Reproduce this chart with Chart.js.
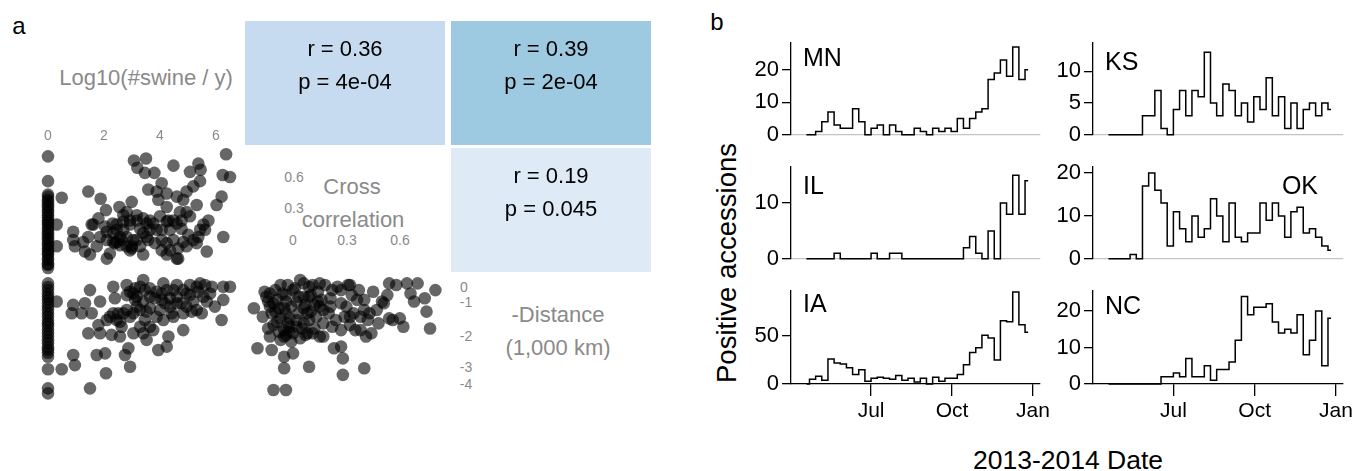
<!DOCTYPE html>
<html>
<head>
<meta charset="utf-8">
<script src="https://cdn.jsdelivr.net/npm/chart.js@4.4.0/dist/chart.umd.min.js"></script>
<style>
  body { margin:0; width:1353px; height:471px; background:#fff; position:relative; overflow:hidden;
         font-family:"Liberation Sans", Arial, sans-serif; }
  canvas { position:absolute; }
  .t { position:absolute; white-space:nowrap; transform:translate(-50%,-50%); line-height:1; }
  .g { color:#8a8a8a; font-size:22px; }
  .s { color:#8a8a8a; font-size:14px; }
</style>
</head>
<body>
<div class="t" style="left:19px;top:26px;font-size:24px">a</div>
<div class="t" style="left:717px;top:22px;font-size:24px">b</div>

<!-- diagonal labels of the pairs plot -->
<div class="t g" style="left:146px;top:78px">Log10(#swine / y)</div>
<div class="t g" style="left:352px;top:187px">Cross</div>
<div class="t g" style="left:353px;top:220px">correlation</div>
<div class="t g" style="left:558px;top:315px">-Distance</div>
<div class="t g" style="left:558px;top:348px">(1,000 km)</div>
<div class="t s" style="left:294px;top:177px">0.6</div>
<div class="t s" style="left:294px;top:208px">0.3</div>
<div class="t s" style="left:293px;top:240px">0</div>
<div class="t s" style="left:347px;top:240px">0.3</div>
<div class="t s" style="left:400px;top:240px">0.6</div>
<div class="t s" style="left:464px;top:287px">0</div>
<div class="t s" style="left:466px;top:302px">-1</div>
<div class="t s" style="left:466px;top:336px">-2</div>
<div class="t s" style="left:466px;top:367px">-3</div>
<div class="t s" style="left:466px;top:384px">-4</div>

<!-- panel b titles -->
<div class="t" style="left:727px;top:263px;font-size:27.5px;transform:translate(-50%,-50%) rotate(-90deg)">Positive accessions</div>
<div class="t" style="left:1068px;top:460px;font-size:26.5px">2013-2014 Date</div>

<script>
// ---- panel a : correlation cells ----
const cellCols = [1, 2, 2];
const cellRows = [0, 0, 1];
const cellR = [0.36, 0.39, 0.19];
const cellP = ['4e-04', '2e-04', '0.045'];
const cellColors = ['#c6dbef', '#9ecae1', '#deebf7'];

// ---- panel a : scatter points ----
// log10(#swine / y) vs cross correlation
const swineCorr = [
  [0,0.79],[0,0.55],[0,0.42],[0,0.40],[0,0.37],[0,0.35],[0,0.32],[0,0.30],[0,0.27],[0,0.25],
  [0,0.22],[0,0.20],[0,0.17],[0,0.15],[0,0.13],[0,0.10],[0,0.08],[0,0.05],[0,0.03],[0,0.0],
  [0,-0.02],[0,-0.05],[0,-0.07],[0,-0.10],[0,-0.12],[0,-0.15],[0,-0.16],[0,-0.20],[0,-0.21],
  [0,-0.25],[0,-0.26],[0,-0.29],
  [0.49,0.39],[1.44,0.45],[1.88,0.38],[2.07,0.27],[1.80,0.19],[1.56,0.13],[2.31,0.14],[2.55,0.30],
  [2.81,0.25],[2.99,0.35],[3.07,0.75],[3.50,0.77],[3.19,0.68],[3.46,0.63],[3.80,0.63],[4.48,0.70],
  [4.06,0.53],[3.58,0.47],[3.88,0.45],[4.24,0.43],[3.94,0.37],[4.24,0.30],[4.60,0.40],[4.83,0.37],
  [4.95,0.45],[5.19,0.50],[5.43,0.55],[5.07,0.64],[5.37,0.72],[5.45,0.66],[6.24,0.61],[6.50,0.59],
  [6.36,0.81],[6.20,0.40],[6.02,0.32],[5.31,0.32],[4.95,0.25],[4.71,0.25],[4.48,0.17],[4.24,0.16],
  [4.00,0.21],[3.64,0.17],[3.40,0.19],[3.17,0.22],[2.93,0.17],[2.69,0.16],[2.45,0.08],[2.10,0.06],
  [1.86,0.01],[1.44,0.01],[0.90,0.06],[0.90,-0.02],[0.96,-0.08],[1.26,-0.04],[1.32,-0.13],[1.50,-0.16],
  [1.74,-0.08],[2.10,-0.02],[2.21,-0.15],[2.39,-0.05],[2.63,-0.02],[2.81,0.01],[2.99,-0.08],[3.17,-0.02],
  [3.40,0.05],[3.58,-0.02],[3.64,0.08],[3.88,0.08],[4.06,-0.02],[4.24,-0.05],[4.36,-0.12],[4.24,-0.16],
  [4.60,-0.20],[4.65,-0.10],[4.83,-0.04],[5.01,0.03],[5.19,-0.02],[5.31,-0.05],[5.43,0.08],[5.55,0.13],
  [5.73,0.17],[5.61,0.08],[5.67,-0.13],[6.26,0.01],[3.40,-0.16],[2.93,-0.12],[2.57,-0.07],[2.33,-0.04],
  [2.10,-0.20],[0.31,0.13],[0.31,-0.08],[4.60,0.14],[4.77,0.09],[4.06,0.08],[5.07,0.21],[4.30,0.17],
  [4.77,0.17],[3.29,0.09],[2.93,0.13],[2.45,0.13],[2.04,0.11],[1.62,0.13],[2.69,0.22],[3.17,0.17],
  [2.45,-0.04],[2.99,-0.10],[4.65,-0.20],
  [2.57,0.01],[2.81,-0.08],[3.05,-0.02],[3.29,-0.08],[3.52,0.01],[3.82,-0.05],[4.06,-0.12],[4.48,-0.02],
  [4.95,-0.08],[2.33,0.05],[3.76,0.14],[4.36,0.08],[2.69,0.08],[5.37,0.01],[3.52,0.14]
];
// log10(#swine / y) vs -distance (1,000 km)
const swineDist = [
  [0,-0.12],[0,-0.25],[0,-0.36],[0,-0.50],[0,-0.60],[0,-0.70],[0,-0.83],[0,-0.95],[0,-1.07],[0,-1.20],
  [0,-1.31],[0,-1.45],[0,-1.55],[0,-1.65],[0,-1.79],[0,-1.90],[0,-2.02],[0,-2.15],[0,-2.26],[0,-2.40],
  [0,-2.50],[0,-2.60],[0,-2.74],[0,-3.19],[0,-3.87],[0,-4.05],
  [0.31,-0.77],[0.49,-3.19],[0.90,-2.68],[0.96,-3.04],[0.90,-0.89],[0.85,-1.19],[1.20,-1.19],[1.32,-0.83],
  [1.50,-0.36],[1.56,-1.19],[1.44,-1.90],[1.50,-3.87],[1.86,-0.77],[1.80,-1.61],[1.86,-1.90],[1.74,-2.68],
  [2.04,-2.62],[2.07,-3.33],[2.21,-1.31],[2.33,-0.24],[2.39,-0.65],[2.27,-1.96],[2.51,-1.19],[2.57,-2.02],
  [2.63,-1.67],[2.75,-2.68],[2.87,-2.44],[2.93,-3.10],[2.81,-0.18],[2.93,-0.42],[3.11,-0.71],[3.17,-0.95],
  [3.05,-1.90],[2.93,-1.31],[3.40,0.0],[3.46,-0.36],[3.46,-1.43],[3.40,-1.90],[3.64,-1.01],[3.76,-1.79],
  [3.94,-2.50],[3.88,-0.42],[4.06,-0.71],[4.24,-2.38],[4.30,-2.02],[4.24,-0.36],[4.36,-0.95],[4.60,-0.60],
  [4.60,-0.18],[4.83,-1.79],[4.83,-1.19],[5.07,-0.18],[5.19,-0.77],[5.31,-1.07],[5.49,-1.19],[5.43,-0.12],
  [5.67,-0.77],[5.85,-0.24],[5.96,-0.95],[6.20,-1.43],[6.26,-0.71],[6.26,-0.24],[6.50,-0.24],[4.95,-0.48],
  [3.88,-1.31],[3.64,-1.67],[3.29,-1.67],[2.69,-1.19],[2.10,-1.43],[2.45,-1.43],[4.12,-1.43],[4.48,-1.31],
  [4.77,-0.83],[4.48,-0.36],[3.64,-0.60],[3.17,-0.60],[5.37,-0.42],[4.95,-0.95],[3.52,-2.14],[3.29,-1.07],
  [2.81,-1.07],[3.11,-0.30],[5.61,-0.18],[4.12,-0.12],
  [2.81,-0.54],[3.05,-0.48],[3.29,-0.24],[3.64,-0.30],[3.82,-0.65],[4.06,-0.48],[4.36,-0.65],[4.60,-0.83],
  [4.83,-0.36],[5.07,-0.54],[5.31,-0.24],[5.55,-0.60],[5.79,-0.48],[3.52,-1.13],[4.00,-1.07],[4.42,-1.19],
  [3.05,-1.19],[2.33,-1.19],[2.57,-1.49],[3.40,-0.77],[5.13,-1.13],[4.18,-0.83]
];
// cross correlation vs -distance (1,000 km)
const corrDist = [
  [-0.22,-1.01],[-0.20,-2.44],[-0.17,-1.31],[-0.16,-0.42],[-0.13,-0.48],[-0.12,-2.50],[-0.11,-3.93],
  [-0.14,-1.73],[-0.13,-2.02],[-0.11,-0.83],[-0.10,-1.13],[-0.09,-1.49],[-0.08,-1.85],[-0.07,-0.18],
  [-0.06,-0.48],[-0.05,-2.74],[-0.05,-3.15],[-0.04,-3.93],[-0.04,-0.77],[-0.04,-1.19],[-0.03,-1.55],
  [-0.02,-1.85],[-0.01,-2.20],[0.0,-2.62],[0.0,-0.36],[0.02,-0.77],[0.03,-1.19],[0.04,0.0],[0.05,-1.73],
  [0.06,-1.01],[0.07,-1.96],[0.09,-0.60],[0.09,-0.24],[0.09,-1.43],[0.09,-3.10],[0.11,-1.90],[0.12,-0.89],
  [0.13,-1.31],[0.14,-0.42],[0.16,-0.71],[0.17,-2.02],[0.18,-0.18],[0.20,-1.19],[0.22,-1.67],[0.23,-2.44],
  [0.25,-0.24],[0.27,-0.83],[0.27,-1.79],[0.27,-2.38],[0.28,-2.80],[0.28,-3.39],[0.29,-1.31],[0.31,-0.18],
  [0.33,-0.54],[0.34,-1.19],[0.35,-1.79],[0.38,-1.79],[0.40,-0.71],[0.40,-3.15],[0.41,-2.02],[0.42,-1.43],
  [0.43,-1.19],[0.44,-1.90],[0.45,-0.42],[0.50,-0.77],[0.53,-0.54],[0.54,-1.37],[0.54,-0.12],[0.58,-0.18],
  [0.62,-1.67],[0.64,-0.12],[0.66,-0.48],[0.68,-0.77],[0.70,-0.12],[0.74,-0.65],[0.75,-1.13],[0.77,-1.73],
  [0.80,-0.36],
  [-0.13,-0.95],[-0.09,-0.71],[-0.05,-1.01],[-0.02,-1.37],[0.02,-1.67],[-0.04,-1.96],[0.0,-1.90],
  [0.06,-0.60],[-0.07,-1.37],[-0.05,-1.79],[0.08,-1.19],[0.15,-0.95],[0.21,-0.65],[0.24,-1.43],
  [0.30,-0.95],[0.32,-1.61],[0.37,-0.36],[0.22,-0.36],[0.11,-0.18],[-0.10,-0.36],[0.06,-0.12],
  [0.17,-1.55],[0.47,-1.07],[0.48,-1.55],
  [-0.15,-0.60],[-0.12,-1.19],[-0.08,-1.01],[-0.04,-0.54],[-0.01,-0.95],[0.03,-0.60],[0.07,-0.89],
  [0.10,-1.13],[0.14,-0.77],[0.02,-1.43],[0.06,-1.55],[-0.02,-1.67],[-0.05,-2.02],[0.04,-2.08],
  [0.08,-1.90],[0.12,-1.73],[0.15,-2.02],[0.01,-0.30],[-0.03,-0.18],[0.10,-0.54],[-0.14,-0.77],
  [-0.11,-1.61],[-0.07,-2.14],[0.17,-1.07],[0.21,-0.95],[0.15,-0.12],[0.27,-0.36],[0.32,-0.18],
  [0.36,-0.71],[0.40,-1.07],[0.32,-1.31],[0.38,-1.31],[0.51,-0.83],[0.56,-1.43],[0.60,-1.37]
];
const swineTicks = [0, 2, 4, 6];

// ---- panel b : weekly positive accessions ----
const weekStarts = ['04-15','04-22','04-29','05-06','05-13','05-20','05-27','06-03','06-10','06-17',
  '06-24','07-01','07-08','07-15','07-22','07-29','08-05','08-12','08-19','08-26','09-02','09-09',
  '09-16','09-23','09-30','10-07','10-14','10-21','10-28','11-04','11-11','11-18','11-25','12-02',
  '12-09','12-16','12-23'];
const states = ['MN', 'KS', 'IL', 'OK', 'IA', 'NC'];
const MN = [0,0,1,4,7,3,2,2,8,4,0,2,3,0,3,1,0,0,2,1,0,2,1,2,1,5,2,5,7,8,17,19,23,18,27,17,20];
const KS = [0,0,0,0,0,0,3,3,7,1,0,4,7,3,7,6,13,5,3,8,7,3,5,2,6,4,9,3,6,1,5,1,4,5,3,5,4];
const IL = [0,0,0,0,0,1,0,0,0,0,0,1,0,0,1,1,0,0,0,0,0,0,0,0,0,0,2,4,1,0,5,0,10,8,15,8,14];
const OK = [0,0,0,0,1,0,17,20,16,13,3,11,7,4,10,5,7,14,10,4,13,5,4,6,6,13,9,13,10,5,11,12,6,7,5,3,2];
const IA = [0,5,8,4,26,22,21,17,10,15,3,6,7,6,5,9,4,6,2,6,0,7,3,6,6,10,20,33,38,51,48,25,66,65,96,62,54];
const NC = [0,0,0,0,0,0,0,0,0,2,2,3,2,7,2,2,5,1,4,4,6,12,24,19,21,21,22,17,14,15,14,19,8,12,20,5,18];
const stateValues = { MN, KS, IL, OK, IA, NC };
const yTicksByState = { MN:[0,10,20], KS:[0,5,10], IL:[0,10], OK:[0,10,20], IA:[0,50], NC:[0,10,20] };
const xTickDates = ['2013-07-01', '2013-10-01', '2014-01-01'];
const xTickLabels = ['Jul', 'Oct', 'Jan'];

Chart.defaults.font.family = '"Liberation Sans", Arial, sans-serif';
Chart.defaults.animation = false;

function dayOfYear(str) {
  const p = str.split('-').map(Number);
  const y = p.length === 3 ? p[0] : 2013;
  const m = p.length === 3 ? p[1] : p[0];
  const d = p.length === 3 ? p[2] : p[1];
  return (Date.UTC(y, m - 1, d) - Date.UTC(2013, 0, 1)) / 86400000;
}

function place(left, top, width, height) {
  const c = document.createElement('canvas');
  c.width = width; c.height = height;
  c.style.left = left + 'px'; c.style.top = top + 'px';
  c.style.width = width + 'px'; c.style.height = height + 'px';
  document.body.appendChild(c);
  return c;
}

// correlation cells (upper triangle)
(function() {
  const cv = place(39, 21, 618, 381);
  new Chart(cv, {
    type: 'scatter',
    data: { datasets: [{ data: cellCols.map((c, i) => ({ x: c + 0.5, y: cellRows[i] + 0.5 })), pointRadius: 0 }] },
    options: {
      responsive: false, events: [],
      layout: { padding: 0 },
      plugins: { legend: { display: false }, tooltip: { enabled: false } },
      scales: {
        x: { type: 'linear', min: 0, max: 3, display: false },
        y: { type: 'linear', min: 0, max: 3, reverse: true, display: false }
      }
    },
    plugins: [{
      id: 'cells',
      beforeDatasetsDraw(chart) {
        const ctx = chart.ctx, xs = chart.scales.x, ys = chart.scales.y;
        ctx.save();
        cellCols.forEach((c, i) => {
          const x0 = xs.getPixelForValue(c), x1 = xs.getPixelForValue(c + 1) - 6;
          const y0 = ys.getPixelForValue(cellRows[i]), y1 = ys.getPixelForValue(cellRows[i] + 1) - 3;
          ctx.fillStyle = cellColors[i];
          ctx.fillRect(x0, y0, x1 - x0, y1 - y0);
          ctx.fillStyle = '#000';
          ctx.font = '22px "Liberation Sans", Arial, sans-serif';
          ctx.textAlign = 'center';
          ctx.textBaseline = 'middle';
          ctx.fillText('r = ' + cellR[i].toFixed(2), (x0 + x1) / 2, y0 + 29);
          ctx.fillText('p = ' + cellP[i], (x0 + x1) / 2, y0 + 62);
        });
        ctx.restore();
      }
    }]
  });
})();

// scatter panels of the pairs plot
function scatterPanel(area, xr, yr, points, topTicks) {
  const pad = 12;
  const axisH = topTicks ? 22 : 0;
  const padTop = topTicks ? 0 : pad;
  const cv = place(area.l - pad, area.t - padTop - axisH,
                   area.r - area.l + 2 * pad, area.b - area.t + pad + padTop + axisH);
  new Chart(cv, {
    type: 'scatter',
    data: { datasets: [{
      data: points.map(p => ({ x: p[0], y: p[1] })),
      backgroundColor: 'rgba(0,0,0,0.6)', borderWidth: 0, pointRadius: 6.3, clip: false
    }] },
    options: {
      responsive: false, events: [],
      layout: { padding: { left: pad, right: pad, bottom: pad, top: padTop } },
      plugins: { legend: { display: false }, tooltip: { enabled: false } },
      scales: {
        x: {
          type: 'linear', min: xr[0], max: xr[1], position: 'top', display: !!topTicks,
          afterFit: s => { s.height = axisH; },
          afterBuildTicks: s => { if (topTicks) s.ticks = topTicks.map(v => ({ value: v })); },
          grid: { display: false, drawTicks: false }, border: { display: false },
          ticks: { color: '#8a8a8a', font: { size: 14 }, padding: 3, maxRotation: 0 }
        },
        y: { type: 'linear', min: yr[0], max: yr[1], display: false }
      }
    }
  });
}

scatterPanel({ l: 30, r: 240, t: 148, b: 272 }, [-0.643, 6.857], [-0.329, 0.871], swineCorr, swineTicks);
scatterPanel({ l: 30, r: 240, t: 276, b: 396 }, [-0.643, 6.857], [-4.143, 0.143], swineDist, null);
scatterPanel({ l: 245, r: 450, t: 276, b: 396 }, [-0.270, 0.882], [-4.143, 0.143], corrDist, null);

// step panels
const panelBoxes = {
  MN: { l: 791, r: 1040, t: 41, b: 136, yMax: 28.5, lx: 12, ly: 17 },
  KS: { l: 1093, r: 1343, t: 41, b: 136, yMax: 14.6, lx: 12, ly: 21 },
  IL: { l: 791, r: 1040, t: 165, b: 260, yMax: 16.6, lx: 12, ly: 21 },
  OK: { l: 1093, r: 1343, t: 165, b: 260, yMax: 21.6, lx: -25, ly: 21 },
  IA: { l: 791, r: 1040, t: 289, b: 384, yMax: 98, lx: 12, ly: 15 },
  NC: { l: 1093, r: 1343, t: 289, b: 384, yMax: 25.7, lx: 12, ly: 17 }
};

function stepPanel(name, g, bottomAxis) {
  const yW = 62, padTop = 15, padRight = 20, xH = bottomAxis ? 45 : 15;
  const cv = place(g.l - yW, g.t - padTop, g.r - g.l + yW + padRight, g.b - g.t + padTop + xH);
  const vals = stateValues[name];
  new Chart(cv, {
    type: 'line',
    data: { datasets: [{
      data: weekStarts.map((w, i) => ({ x: dayOfYear(w) + 3.5, y: vals[i] })),
      borderColor: '#000', borderWidth: 1.5, pointRadius: 0, stepped: 'middle', clip: false, fill: false
    }] },
    options: {
      responsive: false, events: [],
      layout: { padding: { left: 0, top: padTop, right: padRight, bottom: 0 } },
      plugins: { legend: { display: false }, tooltip: { enabled: false } },
      scales: {
        x: {
          type: 'linear', min: 90, max: 373,
          afterFit: s => { s.height = xH; },
          afterBuildTicks: s => { s.ticks = bottomAxis ? xTickDates.map(d => ({ value: dayOfYear(d) })) : []; },
          ticks: { display: bottomAxis, color: '#000', font: { size: 21 }, padding: 3, maxRotation: 0,
                   autoSkip: false, callback: (v, i) => xTickLabels[i] },
          grid: { display: bottomAxis, drawOnChartArea: false, drawTicks: true, tickLength: 12,
                  color: '#000', lineWidth: 1.3 },
          border: { display: true, color: bottomAxis ? '#000' : '#c4c4c4', width: 1.3 }
        },
        y: {
          type: 'linear', min: 0, max: g.yMax,
          afterFit: s => { s.width = yW; },
          afterBuildTicks: s => { s.ticks = yTicksByState[name].map(v => ({ value: v })); },
          ticks: { color: '#000', font: { size: 22 }, padding: 3 },
          grid: { display: true, drawOnChartArea: false, drawTicks: true, tickLength: 9,
                  color: '#000', lineWidth: 1.3 },
          border: { display: true, color: '#000', width: 1.3 }
        }
      }
    },
    plugins: [{
      id: 'stateLabel',
      afterDraw(chart) {
        const a = chart.chartArea, ctx = chart.ctx;
        ctx.save();
        ctx.font = '25px "Liberation Sans", Arial, sans-serif';
        ctx.fillStyle = '#000';
        ctx.textBaseline = 'middle';
        if (g.lx < 0) { ctx.textAlign = 'right'; ctx.fillText(name, a.right + g.lx, a.top + g.ly); }
        else { ctx.textAlign = 'left'; ctx.fillText(name, a.left + g.lx, a.top + g.ly); }
        ctx.restore();
      }
    }]
  });
}

states.forEach(s => stepPanel(s, panelBoxes[s], s === 'IA' || s === 'NC'));
</script>
</body>
</html>
